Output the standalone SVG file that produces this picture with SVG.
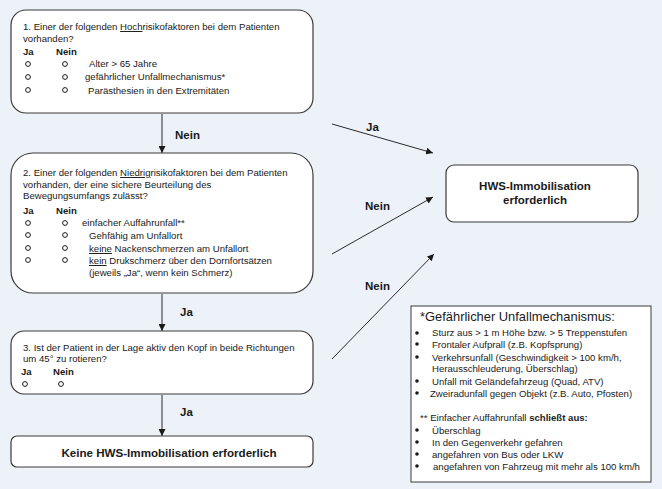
<svg xmlns="http://www.w3.org/2000/svg" width="662" height="489" viewBox="0 0 662 489">
<defs>
<marker id="ah" viewBox="0 0 10 10" refX="10" refY="5" markerWidth="7" markerHeight="7" markerUnits="userSpaceOnUse" orient="auto">
<path d="M0,0 L10,5 L0,10 z" fill="#1a1a1a"/>
</marker>
<style>
text{font-family:"Liberation Sans",Arial,sans-serif;fill:#1a1a1a}
.t{font-size:9.6px}
.b{font-weight:bold}
.box{fill:#fff;stroke:#3a3a3a;stroke-width:1.2}
.c{fill:none;stroke:#1a1a1a;stroke-width:1}
.l{font-size:9.6px}
.lbl{font-size:11.5px;font-weight:bold}
.ln{stroke:#2a2a2a;stroke-width:1;fill:none;marker-end:url(#ah)}
</style>
</defs>
<rect width="662" height="489" fill="#edf2f9"/>

<g id="connectors">
<line class="ln" x1="162" y1="114" x2="162" y2="153"/>
<text class="lbl" x="175" y="139">Nein</text>
<line class="ln" x1="162" y1="294" x2="162" y2="331"/>
<text class="lbl" x="180" y="316">Ja</text>
<line class="ln" x1="162" y1="395" x2="162" y2="436"/>
<text class="lbl" x="180" y="416">Ja</text>
<line class="ln" x1="332" y1="124" x2="433" y2="153"/>
<text class="lbl" x="366" y="131">Ja</text>
<line class="ln" x1="332" y1="254" x2="433" y2="197"/>
<text class="lbl" x="365" y="210">Nein</text>
<line class="ln" x1="332" y1="359" x2="434" y2="254"/>
<text class="lbl" x="365" y="290">Nein</text>
</g>

<g id="q1">
<rect class="box" x="11" y="10" width="302" height="103" rx="15"/>
<text class="t" x="23" y="30">1. Einer der folgenden <tspan text-decoration="underline">Hoch</tspan>risikofaktoren bei dem Patienten</text>
<text class="t" x="23" y="42">vorhanden?</text>
<text class="t b" x="23" y="55">Ja</text>
<text class="t b" x="56" y="55">Nein</text>
<circle class="c" cx="28" cy="64" r="2.4"/><circle class="c" cx="65" cy="64" r="2.4"/>
<text class="t" x="89" y="67">Alter &gt; 65 Jahre</text>
<circle class="c" cx="28" cy="77" r="2.4"/><circle class="c" cx="65" cy="77" r="2.4"/>
<text class="t" x="85" y="80">gefährlicher Unfallmechanismus*</text>
<circle class="c" cx="28" cy="90" r="2.4"/><circle class="c" cx="65" cy="90" r="2.4"/>
<text class="t" x="88" y="94">Parästhesien in den Extremitäten</text>
</g>

<g id="q2">
<rect class="box" x="11" y="153" width="302" height="140" rx="22"/>
<text class="t" x="23" y="176">2. Einer der folgenden <tspan text-decoration="underline">Niedrig</tspan>risikofaktoren bei dem Patienten</text>
<text class="t" x="23" y="188">vorhanden, der eine sichere Beurteilung des</text>
<text class="t" x="23" y="199">Bewegungsumfangs zulässt?</text>
<text class="t b" x="23" y="214">Ja</text>
<text class="t b" x="56" y="214">Nein</text>
<circle class="c" cx="28" cy="223" r="2.4"/><circle class="c" cx="65" cy="223" r="2.4"/>
<text class="t" x="82" y="226">einfacher Auffahrunfall**</text>
<circle class="c" cx="28" cy="235" r="2.4"/><circle class="c" cx="65" cy="235" r="2.4"/>
<text class="t" x="89" y="239">Gehfähig am Unfallort</text>
<circle class="c" cx="28" cy="248" r="2.4"/><circle class="c" cx="65" cy="248" r="2.4"/>
<text class="t" x="89" y="252"><tspan text-decoration="underline">keine</tspan> Nackenschmerzen am Unfallort</text>
<circle class="c" cx="28" cy="260" r="2.4"/><circle class="c" cx="65" cy="260" r="2.4"/>
<text class="t" x="89" y="264"><tspan text-decoration="underline">kein</tspan> Drukschmerz über den Dornfortsätzen</text>
<text class="t" x="89" y="276">(jeweils „Ja“, wenn kein Schmerz)</text>
</g>

<g id="q3">
<rect class="box" x="11" y="331" width="302" height="63" rx="13"/>
<text class="t" x="23" y="351">3. Ist der Patient in der Lage aktiv den Kopf in beide Richtungen</text>
<text class="t" x="23" y="362">um 45° zu rotieren?</text>
<text class="t b" x="21" y="375">Ja</text>
<text class="t b" x="53" y="375">Nein</text>
<circle class="c" cx="25" cy="384" r="2.4"/><circle class="c" cx="61" cy="384" r="2.4"/>
</g>

<g id="no-immobilisation">
<rect class="box" x="11" y="436" width="302" height="31" rx="6"/>
<text x="169" y="457" text-anchor="middle" font-size="11.6" font-weight="bold">Keine HWS-Immobilisation erforderlich</text>
</g>

<g id="immobilisation">
<rect class="box" x="446" y="165" width="192" height="57" rx="8"/>
<text x="535" y="190" text-anchor="middle" font-size="11.5" font-weight="bold">HWS-Immobilisation</text>
<text x="535" y="204" text-anchor="middle" font-size="11.5" font-weight="bold">erforderlich</text>
</g>

<g id="legend">
<rect x="411" y="306" width="240" height="176" fill="#fff" stroke="#3a3a3a" stroke-width="1"/>
<text x="420" y="321" font-size="12.9">*Gefährlicher Unfallmechanismus:</text>
<g fill="#1a1a1a">
<circle cx="417" cy="333" r="1.8"/>
<circle cx="417" cy="344" r="1.8"/>
<circle cx="417" cy="357" r="1.8"/>
<circle cx="417" cy="381" r="1.8"/>
<circle cx="417" cy="393" r="1.8"/>
<circle cx="417" cy="430" r="1.8"/>
<circle cx="417" cy="442" r="1.8"/>
<circle cx="417" cy="454" r="1.8"/>
<circle cx="417" cy="466" r="1.8"/>
</g>
<text class="l" x="432" y="336">Sturz aus &gt; 1 m Höhe bzw. &gt; 5 Treppenstufen</text>
<text class="l" x="432" y="348">Frontaler Aufprall (z.B. Kopfsprung)</text>
<text class="l" x="432" y="361">Verkehrsunfall (Geschwindigkeit &gt; 100 km/h,</text>
<text class="l" x="432" y="372">Herausschleuderung, Überschlag)</text>
<text class="l" x="432" y="385">Unfall mit Geländefahrzeug (Quad, ATV)</text>
<text class="l" x="430" y="397">Zweiradunfall gegen Objekt (z.B. Auto, Pfosten)</text>
<text class="l" x="420" y="421">** Einfacher Auffahrunfall <tspan font-weight="bold">schließt aus:</tspan></text>
<text class="l" x="432" y="434">Überschlag</text>
<text class="l" x="432" y="446">In den Gegenverkehr gefahren</text>
<text class="l" x="432" y="458">angefahren von Bus oder LKW</text>
<text class="l" x="433" y="470">angefahren von Fahrzeug mit mehr als 100 km/h</text>
</g>
</svg>
